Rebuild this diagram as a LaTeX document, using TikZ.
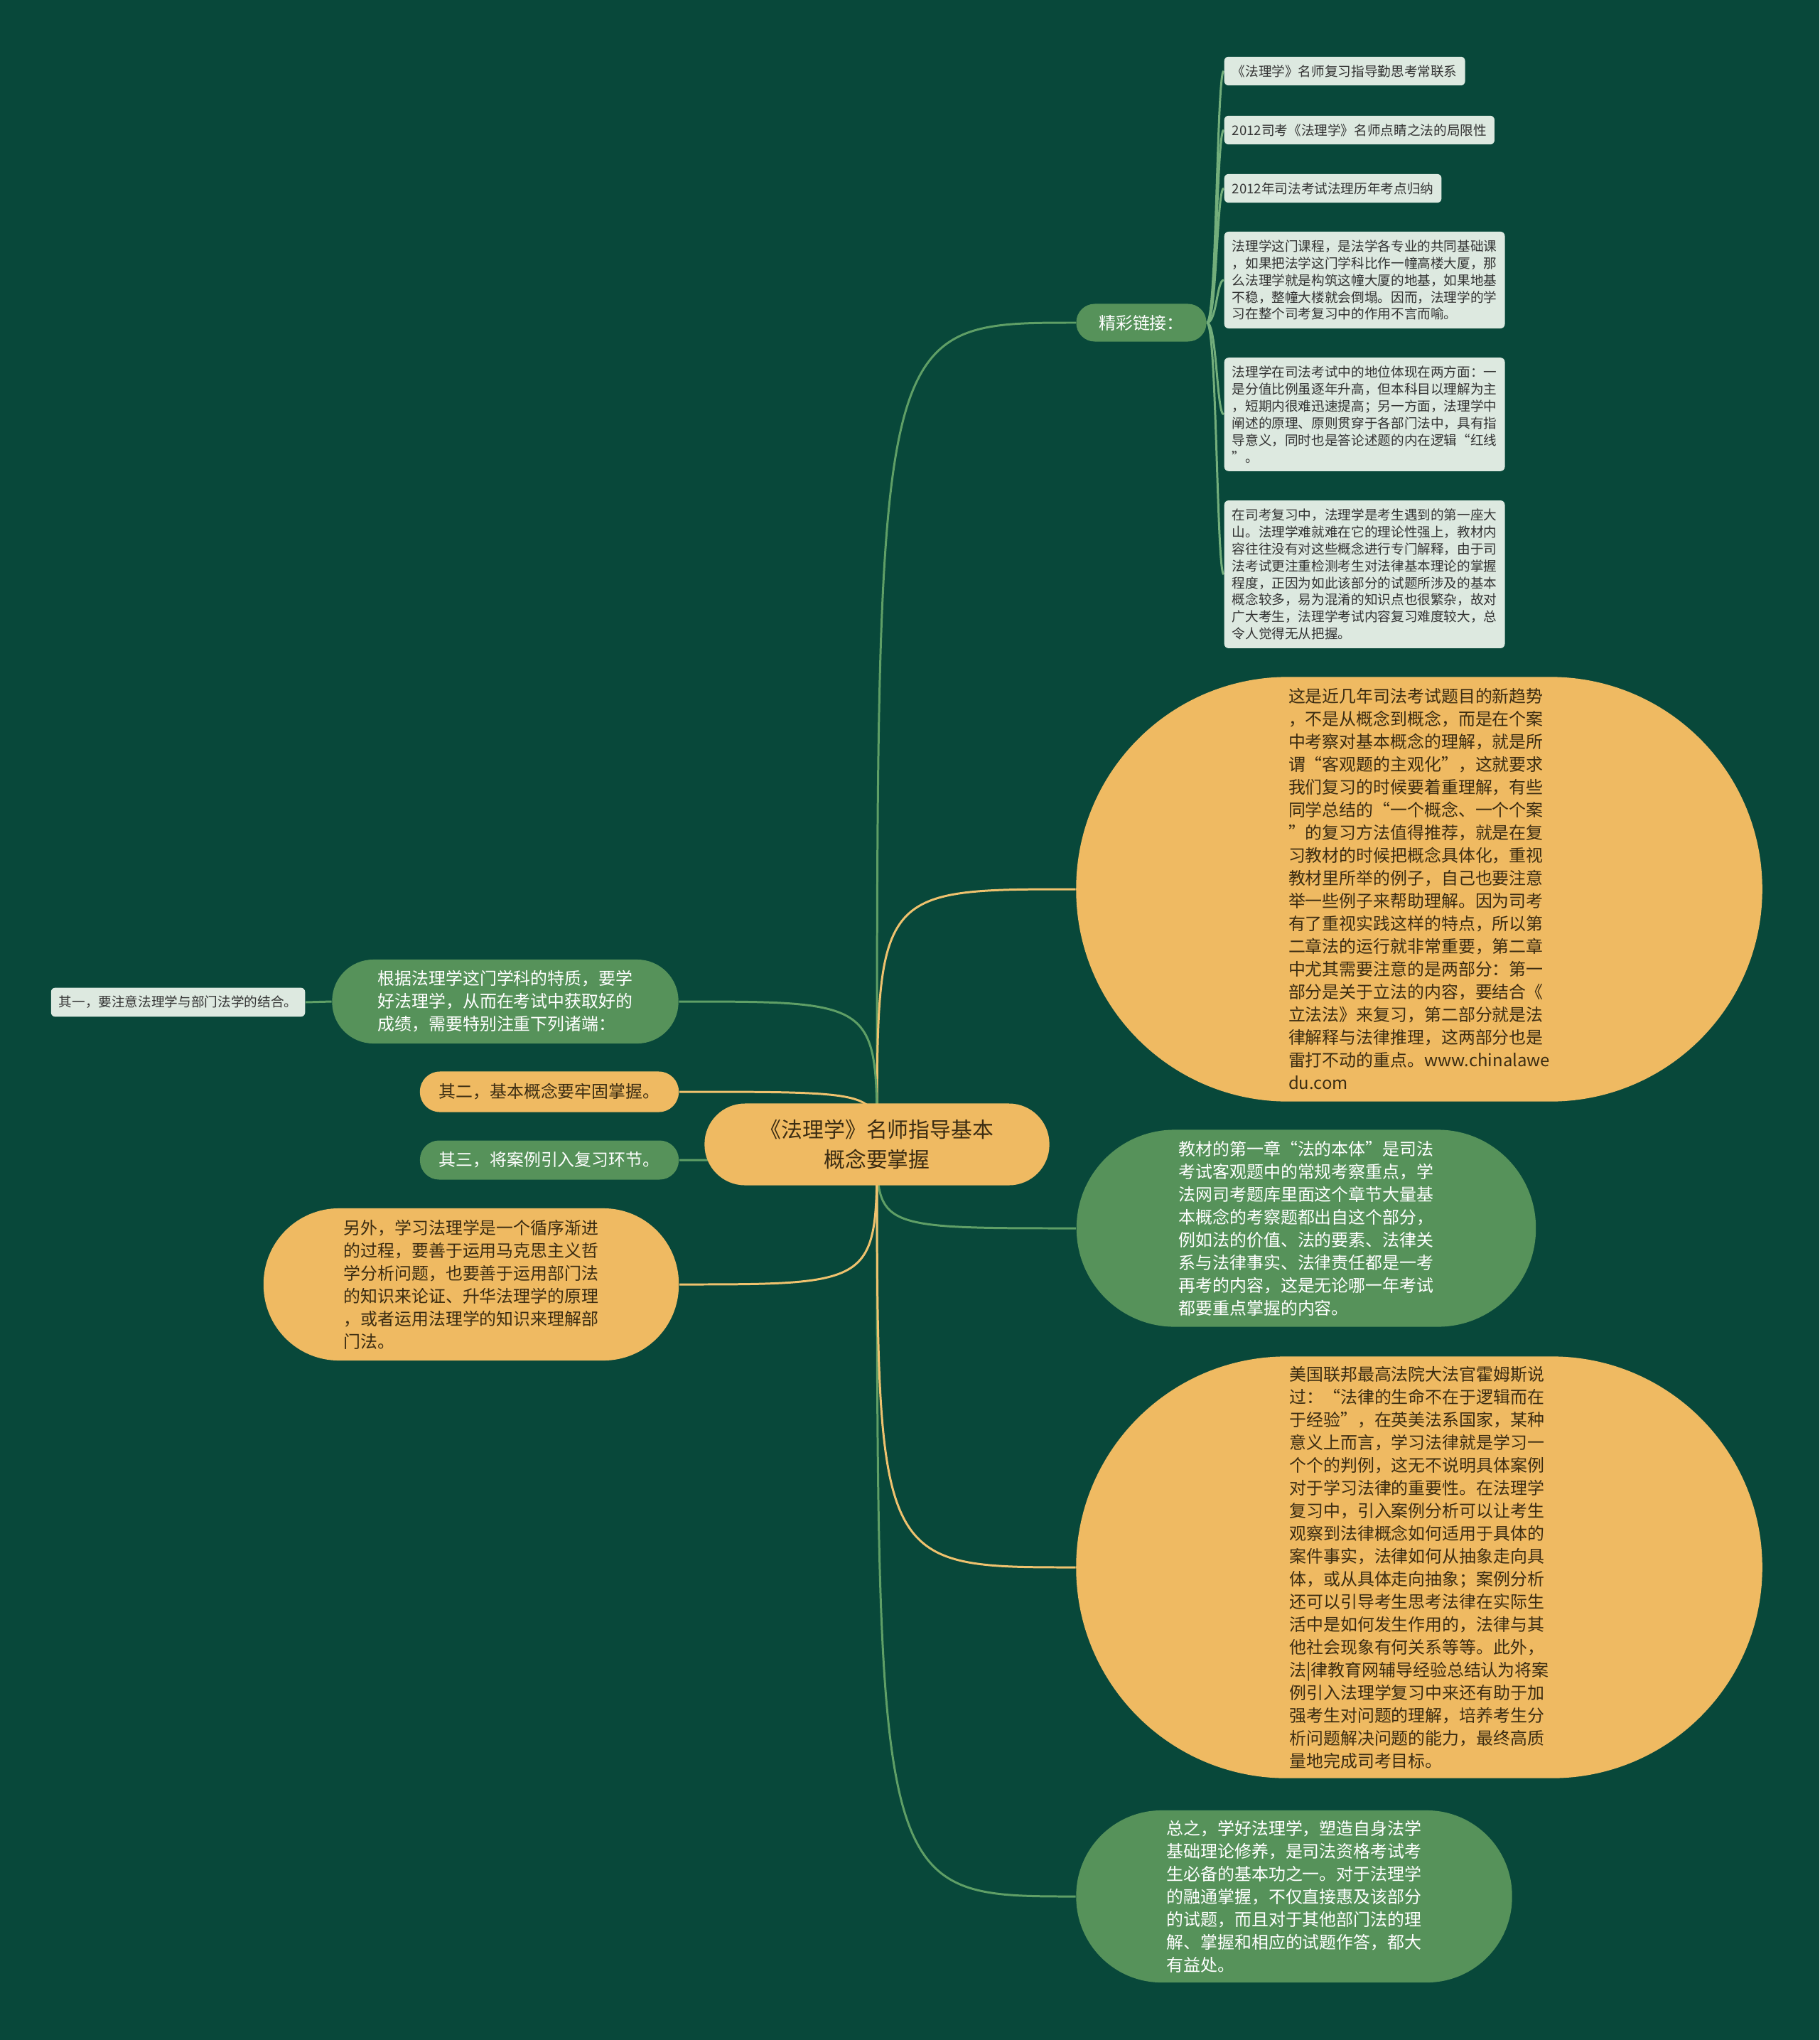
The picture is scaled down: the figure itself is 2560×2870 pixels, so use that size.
\documentclass[tikz,border=0pt]{standalone}
\usepackage{fontspec}
\setmainfont{Noto Sans CJK SC}
\usetikzlibrary{backgrounds}
\definecolor{BoardGreen}{HTML}{08483A}
\definecolor{TopicOrange}{HTML}{EFBA62}
\definecolor{TopicGreen}{HTML}{56925A}
\definecolor{LeafGray}{HTML}{DDE9E0}
\definecolor{InkBrown}{HTML}{3B2C12}
\definecolor{InkDark}{HTML}{333333}
\definecolor{LineGreen}{HTML}{5F9F66}
\definecolor{LineOrange}{HTML}{EFC26E}
\definecolor{LineLeaf}{HTML}{73AE7B}
\newcommand\bodysize{\fontsize{6.8pt}{9.1pt}\selectfont}
\newcommand\leafsize{\fontsize{5.3pt}{6.8pt}\selectfont}
\newcommand\rootsize{\fontsize{8.5pt}{11.7pt}\selectfont}

\begin{document}
\begin{tikzpicture}[x=0.01cm,y=-0.01cm,
    orangepill/.style={fill=TopicOrange,text=InkBrown,align=left,font=\bodysize,inner sep=0pt},
    greenpill/.style={fill=TopicGreen,text=white,align=left,font=\bodysize,inner sep=0pt},
    leafbox/.style={fill=LeafGray,text=InkDark,align=left,font=\leafsize,rounded corners=0.06cm,inner xsep=0.11cm,inner ysep=0.115cm},
    greenline/.style={draw=LineGreen,line width=0.85pt},
    orangeline/.style={draw=LineOrange,line width=0.85pt},
    leafline/.style={draw=LineLeaf,line width=0.85pt}]
    \useasboundingbox (0,0) rectangle (2560,2870);
    % centre
    \node[orangepill,align=center,font=\rootsize,minimum width=4.85cm,minimum height=1.15cm,rounded corners=0.57cm] (root) at (1234,1610) {《法理学》名师指导基本\\概念要掌握};
    % right side
    \node[greenpill,align=center,minimum width=1.83cm,minimum height=0.53cm,rounded corners=0.26cm] (links) at (1606,454) {精彩链接：};
    \node[leafbox,anchor=west] (l1) at (1722,100) {《法理学》名师复习指导勤思考常联系};
    \node[leafbox,anchor=west] (l2) at (1722,183) {2012司考《法理学》名师点睛之法的局限性};
    \node[leafbox,anchor=west] (l3) at (1722,265) {2012年司法考试法理历年考点归纳};
    \node[leafbox,anchor=west] (l4) at (1722,394) {法理学这门课程，是法学各专业的共同基础课\\，如果把法学这门学科比作一幢高楼大厦，那\\么法理学就是构筑这幢大厦的地基，如果地基\\不稳，整幢大楼就会倒塌。因而，法理学的学\\习在整个司考复习中的作用不言而喻。};
    \node[leafbox,anchor=west] (l5) at (1722,583) {法理学在司法考试中的地位体现在两方面：一\\是分值比例虽逐年升高，但本科目以理解为主\\，短期内很难迅速提高；另一方面，法理学中\\阐述的原理、原则贯穿于各部门法中，具有指\\导意义，同时也是答论述题的内在逻辑“红线\\”。};
    \node[leafbox,anchor=west] (l6) at (1722,808) {在司考复习中，法理学是考生遇到的第一座大\\山。法理学难就难在它的理论性强上，教材内\\容往往没有对这些概念进行专门解释，由于司\\法考试更注重检测考生对法律基本理论的掌握\\程度，正因为如此该部分的试题所涉及的基本\\概念较多，易为混淆的知识点也很繁杂，故对\\广大考生，法理学考试内容复习难度较大，总\\令人觉得无从把握。};
    \node[orangepill,minimum width=9.65cm,minimum height=5.97cm,rounded corners=2.98cm] (trend) at (1997,1251) {这是近几年司法考试题目的新趋势\\，不是从概念到概念，而是在个案\\中考察对基本概念的理解，就是所\\谓“客观题的主观化”，这就要求\\我们复习的时候要着重理解，有些\\同学总结的“一个概念、一个个案\\”的复习方法值得推荐，就是在复\\习教材的时候把概念具体化，重视\\教材里所举的例子，自己也要注意\\举一些例子来帮助理解。因为司考\\有了重视实践这样的特点，所以第\\二章法的运行就非常重要，第二章\\中尤其需要注意的是两部分：第一\\部分是关于立法的内容，要结合《\\立法法》来复习，第二部分就是法\\律解释与法律推理，这两部分也是\\雷打不动的重点。www.chinalawe\\du.com};
    \node[greenpill,minimum width=6.46cm,minimum height=2.77cm,rounded corners=1.38cm] (ontology) at (1838,1728) {教材的第一章“法的本体”是司法\\考试客观题中的常规考察重点，学\\法网司考题库里面这个章节大量基\\本概念的考察题都出自这个部分，\\例如法的价值、法的要素、法律关\\系与法律事实、法律责任都是一考\\再考的内容，这是无论哪一年考试\\都要重点掌握的内容。};
    \node[orangepill,minimum width=9.65cm,minimum height=5.93cm,rounded corners=2.96cm] (holmes) at (1997,2205) {美国联邦最高法院大法官霍姆斯说\\过：“法律的生命不在于逻辑而在\\于经验”，在英美法系国家，某种\\意义上而言，学习法律就是学习一\\个个的判例，这无不说明具体案例\\对于学习法律的重要性。在法理学\\复习中，引入案例分析可以让考生\\观察到法律概念如何适用于具体的\\案件事实，法律如何从抽象走向具\\体，或从具体走向抽象；案例分析\\还可以引导考生思考法律在实际生\\活中是如何发生作用的，法律与其\\他社会现象有何关系等等。此外，\\法|律教育网辅导经验总结认为将案\\例引入法理学复习中来还有助于加\\强考生对问题的理解，培养考生分\\析问题解决问题的能力，最终高质\\量地完成司考目标。};
    \node[greenpill,minimum width=6.13cm,minimum height=2.42cm,rounded corners=1.2cm] (summary) at (1821,2668) {总之，学好法理学，塑造自身法学\\基础理论修养，是司法资格考试考\\生必备的基本功之一。对于法理学\\的融通掌握，不仅直接惠及该部分\\的试题，而且对于其他部门法的理\\解、掌握和相应的试题作答，都大\\有益处。};
    % left side
    \node[greenpill,minimum width=4.87cm,minimum height=1.18cm,rounded corners=0.58cm] (traits) at (711,1409) {根据法理学这门学科的特质，要学\\好法理学，从而在考试中获取好的\\成绩，需要特别注重下列诸端：};
    \node[leafbox,anchor=east] (first) at (430,1410) {其一，要注意法理学与部门法学的结合。};
    \node[orangepill,minimum width=3.64cm,minimum height=0.57cm,rounded corners=0.28cm] (second) at (773,1536) {其二，基本概念要牢固掌握。};
    \node[greenpill,minimum width=3.64cm,minimum height=0.55cm,rounded corners=0.27cm] (third) at (773,1632) {其三，将案例引入复习环节。};
    \node[orangepill,minimum width=5.84cm,minimum height=2.14cm,rounded corners=1.06cm] (method) at (663,1807) {另外，学习法理学是一个循序渐进\\的过程，要善于运用马克思主义哲\\学分析问题，也要善于运用部门法\\的知识来论证、升华法理学的原理\\，或者运用法理学的知识来理解部\\门法。};
    \begin{scope}[on background layer]
      \fill[BoardGreen] (0,0) rectangle (2560,2870);
      \foreach \n in {links,ontology,summary}
        \draw[greenline] (root.center) .. controls (root.center |- \n.west) .. (\n.west);
      \foreach \n in {trend,holmes}
        \draw[orangeline] (root.center) .. controls (root.center |- \n.west) .. (\n.west);
      \foreach \n in {traits,third}
        \draw[greenline] (root.center) .. controls (root.center |- \n.east) .. (\n.east);
      \foreach \n in {second,method}
        \draw[orangeline] (root.center) .. controls (root.center |- \n.east) .. (\n.east);
      \foreach \i in {1,...,6}
        \draw[leafline] (links.east) .. controls +(14,0) and +(-10,0) .. (l\i.west);
      \draw[greenline] (traits.west) -- (first.east);
    \end{scope}
\end{tikzpicture}
\end{document}
